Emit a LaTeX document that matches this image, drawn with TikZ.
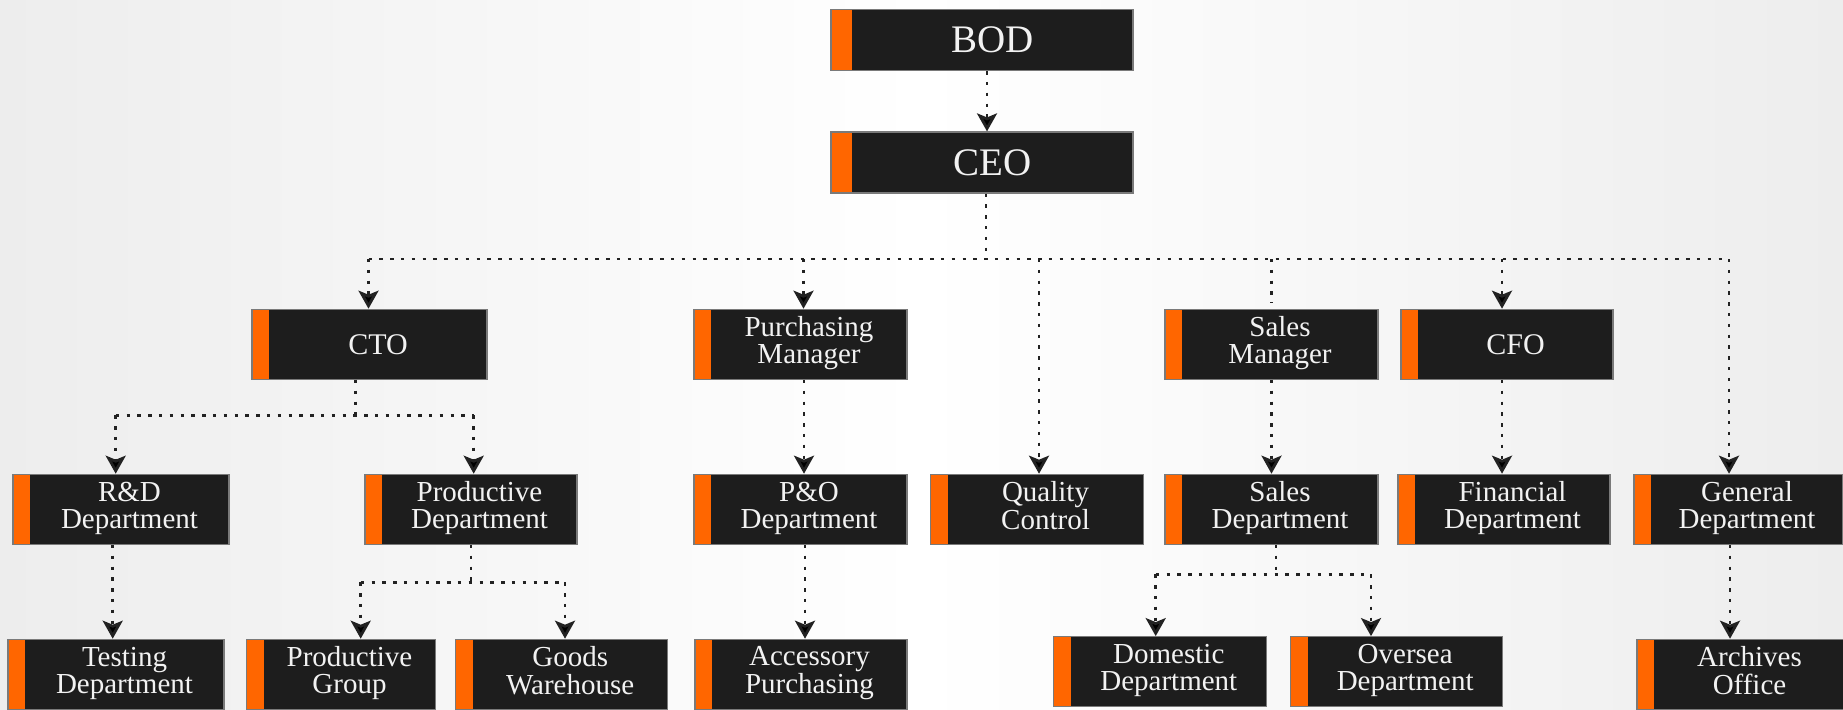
\documentclass[tikz,border=0pt]{standalone}
\usepackage{fontspec}
\setmainfont{Liberation Serif}
\usetikzlibrary{arrows.meta}
\definecolor{boxblack}{HTML}{1D1D1D}
\definecolor{boxedge}{HTML}{7A7A7A}
\definecolor{orangebar}{HTML}{FF6600}
\definecolor{boxtext}{HTML}{F2F2F2}
\definecolor{linecol}{HTML}{222222}
\definecolor{bgside}{HTML}{EDEDED}
\newcommand{\one}[1]{\hspace*{\barwidth}#1}
\newcommand{\two}[2]{\hspace*{\barwidth}\begin{tabular}{@{}c@{}}#1\\#2\end{tabular}}
\tikzset{
  barw/.store in=\barwidth, barw=17pt,
  orgbox/.style={rectangle, fill=boxblack, draw=boxedge, line width=1.2pt,
    inner sep=0pt, minimum height=70pt, text=boxtext,
    font=\fontsize{29}{27}\selectfont,
    path picture={\fill[orangebar] (path picture bounding box.south west)
      rectangle ([xshift=\barwidth]path picture bounding box.north west);}},
  bigbox/.style={orgbox, barw=21pt, minimum width=302pt, minimum height=61pt,
    font=\fontsize{39}{40}\selectfont},
  midfont/.style={font=\fontsize{30}{30}\selectfont},
  conn/.style={draw=linecol, line width=2.8pt, dash pattern=on 3.4pt off 7.4pt},
  arr/.style={-{Stealth[length=18pt,width=20pt,inset=4pt,fill=black]}},
}
\begin{document}
\begin{tikzpicture}[x=1pt,y=-1pt]
\useasboundingbox (0,0) rectangle (1843,709);
\clip (0,0) rectangle (1843,709);
\fill[left color=bgside, right color=bgside, middle color=white] (0,0) rectangle (1843,709);

% nodes
\node[bigbox] (bod) at (982,40) {\one{BOD}};
\node[bigbox] (ceo) at (982,162.5) {\one{CEO}};

\node[orgbox, midfont, minimum width=235pt] (cto) at (369.5,344.3) {\one{CTO}};
\node[orgbox, minimum width=213pt] (pm) at (800.5,344.3) {\two{Purchasing}{Manager}};
\node[orgbox, minimum width=213pt] (sm) at (1271.5,344.3) {\two{Sales}{Manager}};
\node[orgbox, midfont, minimum width=212pt] (cfo) at (1507,344.3) {\one{CFO}};

\node[orgbox, minimum width=216pt] (rd) at (121,509.3) {\two{R\&D}{Department}};
\node[orgbox, minimum width=212pt] (pd) at (471,509.3) {\two{Productive}{Department}};
\node[orgbox, minimum width=213pt] (po) at (800.5,509.3) {\two{P\&O}{Department}};
\node[orgbox, minimum width=212.6pt] (qc) at (1037,509.3) {\two{Quality}{Control}};
\node[orgbox, minimum width=213pt] (sd) at (1271.5,509.3) {\two{Sales}{Department}};
\node[orgbox, minimum width=212pt] (fd) at (1504,509.3) {\two{Financial}{Department}};
\node[orgbox, minimum width=209pt] (gd) at (1738.5,509.3) {\two{General}{Department}};

\node[orgbox, minimum width=216pt] (td) at (116,674.3) {\two{Testing}{Department}};
\node[orgbox, minimum width=189pt] (pg) at (341,674.3) {\two{Productive}{Group}};
\node[orgbox, minimum width=212pt] (gw) at (561.7,674.3) {\two{Goods}{Warehouse}};
\node[orgbox, minimum width=212pt] (ap) at (801,674.3) {\two{Accessory}{Purchasing}};
\node[orgbox, minimum width=213pt] (dd) at (1160.3,671.7) {\two{Domestic}{Department}};
\node[orgbox, minimum width=212pt] (od) at (1396.7,671.7) {\two{Oversea}{Department}};
\node[orgbox, minimum width=208pt] (ao) at (1741,674.3) {\two{Archives}{Office}};

% BOD -> CEO
\draw[conn,arr] ([xshift=5pt]bod.south) -- ([xshift=5pt]ceo.north);

% CEO bus
\coordinate (ceob) at (986,259);
\coordinate (cto-in) at ([xshift=-1pt]cto.north);
\coordinate (pm-in) at ([xshift=3pt]pm.north);
\coordinate (sm-in) at (sm.north);
\coordinate (cfo-in) at ([xshift=-5pt]cfo.north);
\coordinate (qc-in) at ([xshift=2pt]qc.north);
\coordinate (gd-in) at ([xshift=-9.5pt]gd.north);
\draw[conn] ([xshift=4pt]ceo.south) -- (ceob);
\draw[conn] (ceob -| cto-in) -- (ceob -| gd-in);
\draw[conn,arr] (ceob -| cto-in) -- (cto-in);
\draw[conn,arr] (ceob -| pm-in) -- (pm-in);
\draw[conn] (ceob -| sm-in) -- ([yshift=6pt]sm-in);
\draw[conn,arr] (ceob -| cfo-in) -- (cfo-in);
\draw[conn,arr] (ceob -| qc-in) -- (qc-in);
\draw[conn,arr] (ceob -| gd-in) -- (gd-in);

% CTO bus
\coordinate (ctob) at (355.7,415.3);
\coordinate (rd-in) at ([xshift=-5.3pt]rd.north);
\coordinate (pd-in) at ([xshift=2.7pt]pd.north);
\draw[conn] ([xshift=-13.8pt]cto.south) -- (ctob);
\draw[conn] (ctob -| rd-in) -- (ctob -| pd-in);
\draw[conn,arr] (ctob -| rd-in) -- (rd-in);
\draw[conn,arr] (ctob -| pd-in) -- (pd-in);

% straight links
\draw[conn,arr] ([xshift=3.5pt]pm.south) -- ([xshift=3.5pt]po.north);
\draw[conn,arr] (sm.south) -- (sd.north);
\draw[conn,arr] ([xshift=-5pt]cfo.south) -- ([xshift=-2pt]fd.north);
\draw[conn,arr] ([xshift=-8.3pt]rd.south) -- ([xshift=-3.3pt]td.north);
\draw[conn,arr] ([xshift=4.5pt]po.south) -- ([xshift=4pt]ap.north);
\draw[conn,arr] ([xshift=-8.5pt]gd.south) -- ([xshift=-11pt]ao.north);

% Productive department bus
\coordinate (pdb) at (471,582.3);
\coordinate (pg-in) at ([xshift=19.7pt]pg.north);
\coordinate (gw-in) at ([xshift=3.3pt]gw.north);
\draw[conn] (pd.south) -- (pdb);
\draw[conn] (pdb -| pg-in) -- (pdb -| gw-in);
\draw[conn,arr] (pdb -| pg-in) -- (pg-in);
\draw[conn,arr] (pdb -| gw-in) -- (gw-in);

% Sales department bus
\coordinate (sdb) at (1276,574.3);
\coordinate (dd-in) at ([xshift=-4.6pt]dd.north);
\coordinate (od-in) at ([xshift=-25.7pt]od.north);
\draw[conn] ([xshift=4.5pt]sd.south) -- (sdb);
\draw[conn] (sdb -| dd-in) -- (sdb -| od-in);
\draw[conn,arr] (sdb -| dd-in) -- (dd-in);
\draw[conn,arr] (sdb -| od-in) -- (od-in);
\end{tikzpicture}
\end{document}
